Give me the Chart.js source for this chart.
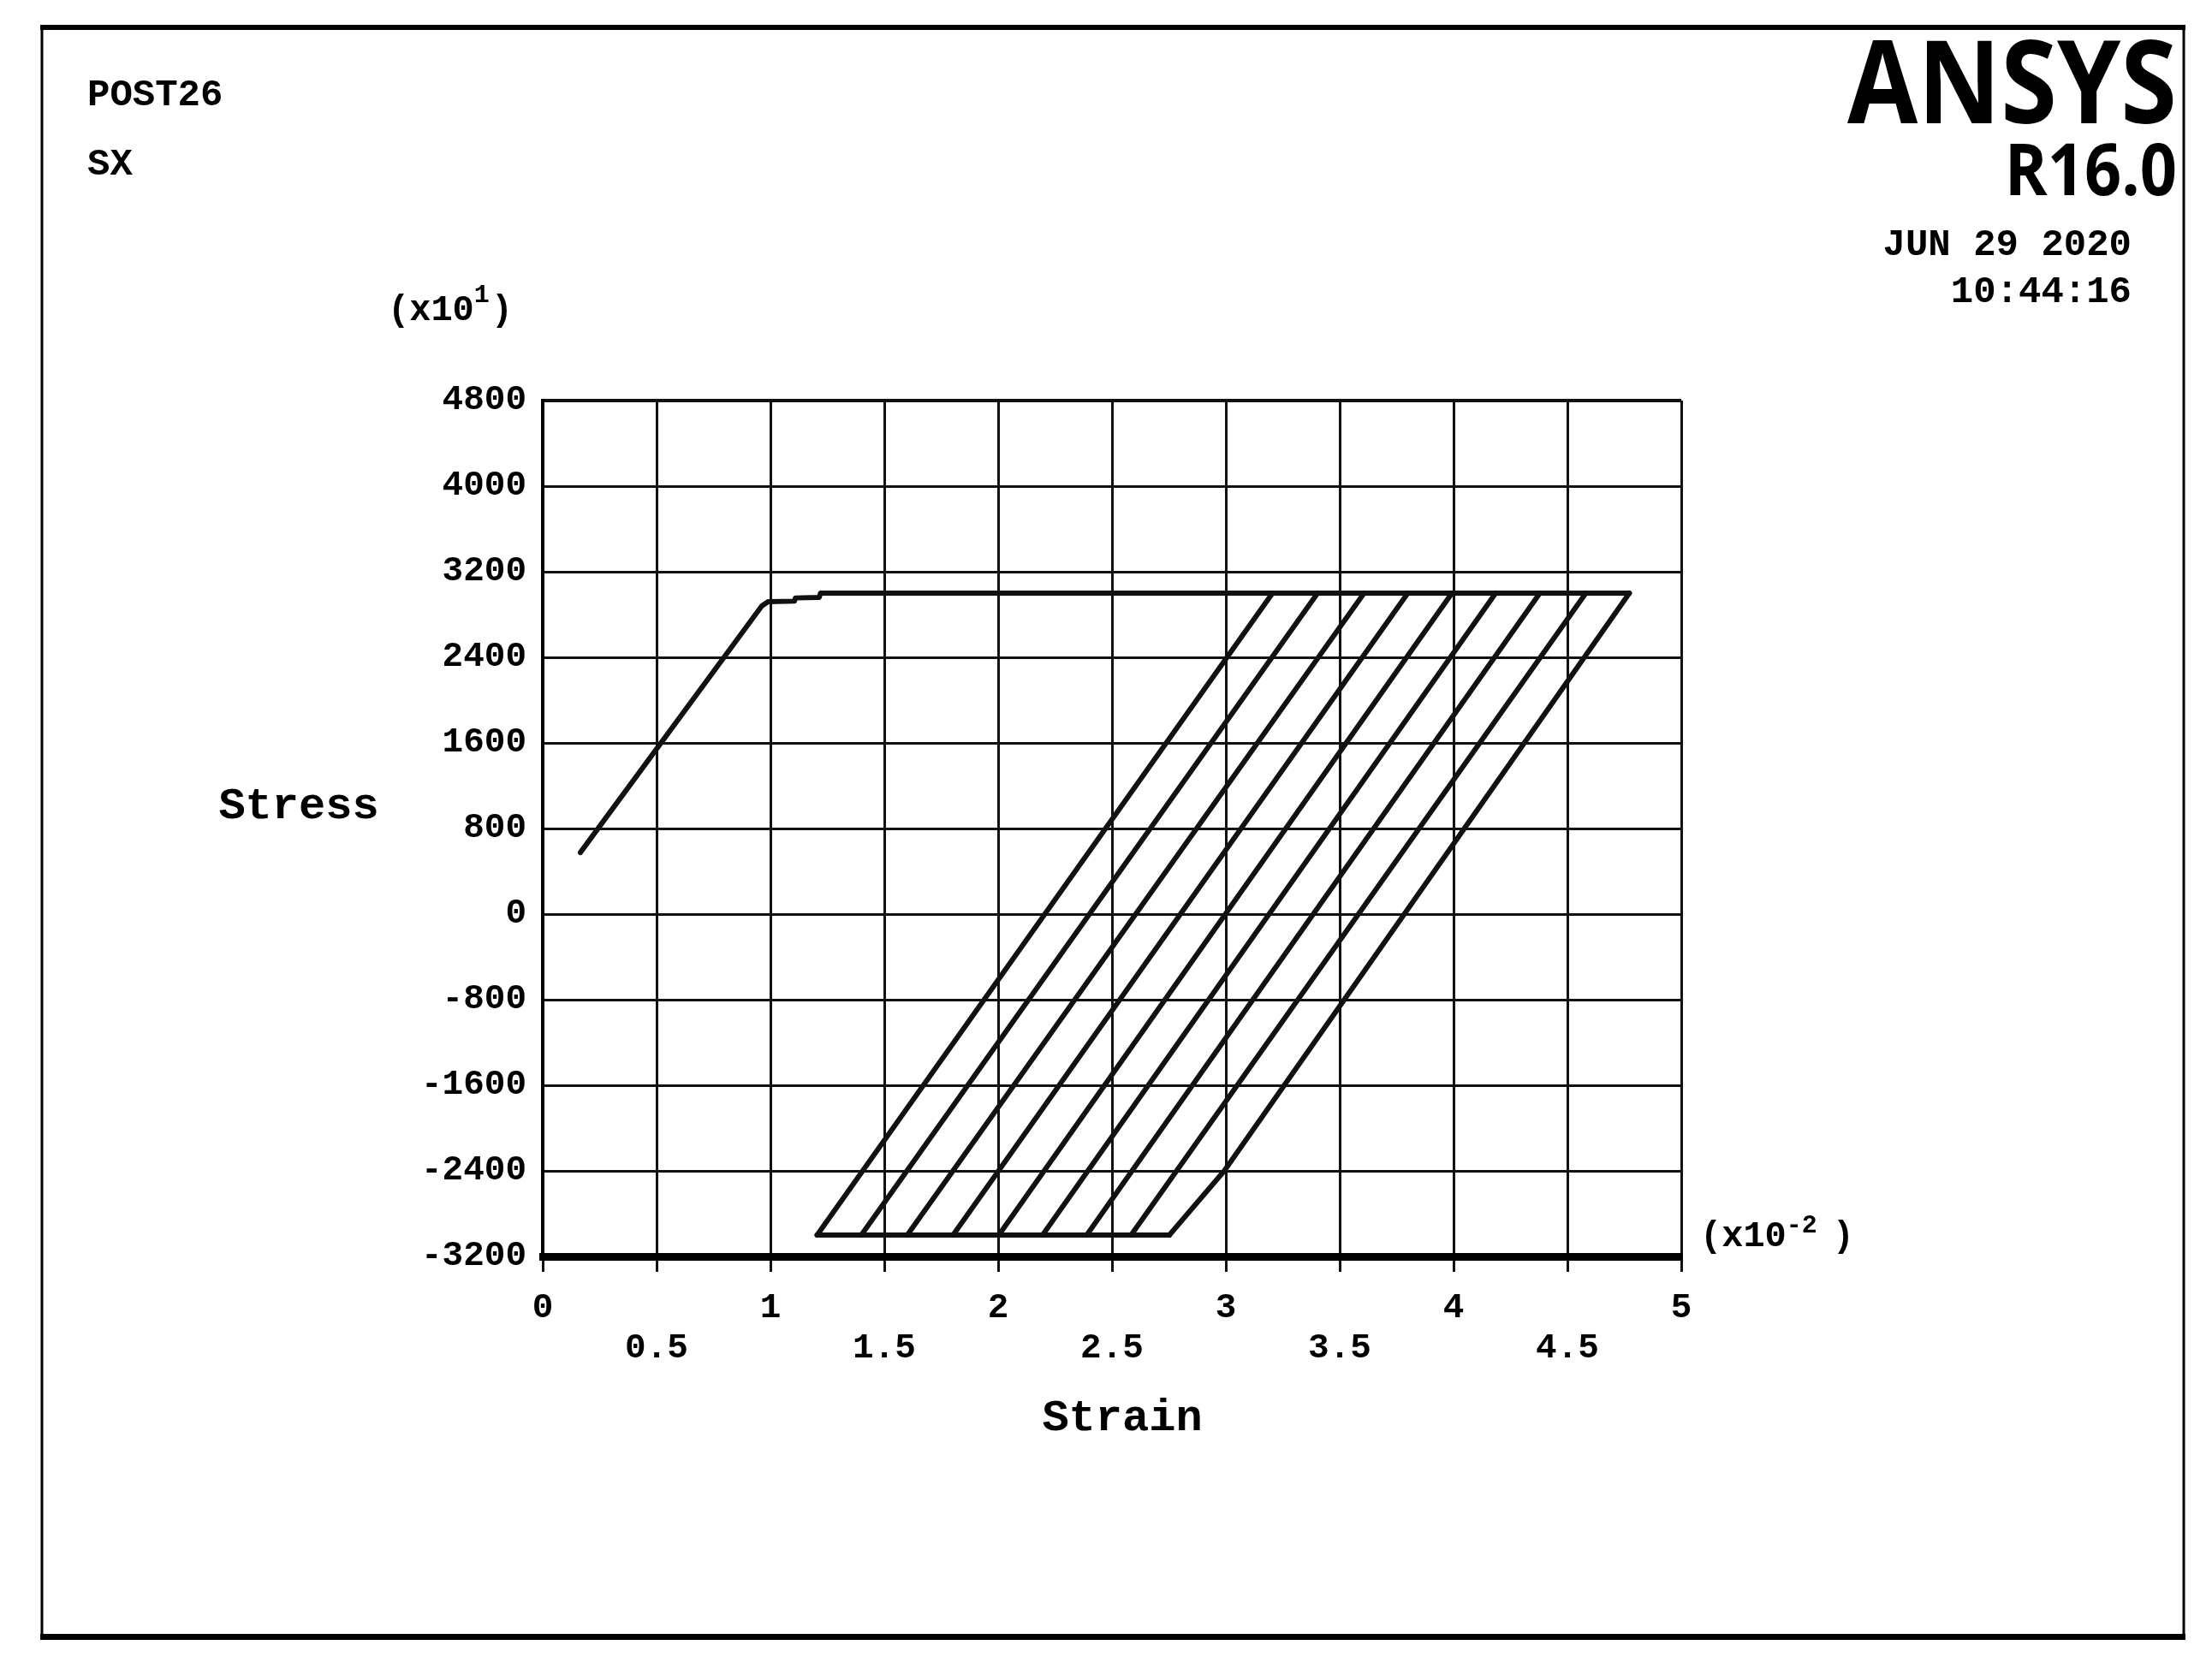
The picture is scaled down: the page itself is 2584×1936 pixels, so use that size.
<!DOCTYPE html>
<html>
<head>
<meta charset="utf-8">
<title>POST26 SX - Stress vs Strain</title>
<script src="https://cdn.jsdelivr.net/npm/chart.js@4.4.1/dist/chart.umd.min.js"></script>
<style>
    html, body { margin: 0; padding: 0; background: #fff; }
    #wrap { width: 2584px; height: 1936px; }
</style>
</head>
<body>
<div id="wrap"><canvas id="chart" width="2584" height="1936"></canvas></div>
<script>
// strain is in units of 1e-2, stress in units of 1e1 (as on the axes)
const loadStrain = [0.165, 0.962, 0.99, 1.105, 1.11, 1.214, 1.22, 4.772];
const loadStress = [575, 2880, 2920, 2925, 2955, 2960, 3000, 3000];

const topStress = 3000;
const bottomStress = -3000;
const topStrain = [3.205, 3.403, 3.607, 3.799, 3.993, 4.185, 4.379, 4.581, 4.772];
const bottomStrain = [1.205, 1.399, 1.601, 1.802, 2.003, 2.195, 2.389, 2.584, 2.752];

// the last branch bends a little just above the bottom line
const bendStrain = 2.993;
const bendStress = -2400;

const xTicks = [0, 0.5, 1, 1.5, 2, 2.5, 3, 3.5, 4, 4.5, 5];
const yTicks = [-3200, -2400, -1600, -800, 0, 800, 1600, 2400, 3200, 4000, 4800];

const headerLines = ["POST26", "SX"];
const dateLines = ["JUN 29 2020", "10:44:16"];

const mono = "'Liberation Mono', 'DejaVu Sans Mono', monospace";
const lineStyle = {
    borderColor: "#111",
    borderWidth: 6,
    pointRadius: 0,
    tension: 0,
    fill: false,
    borderJoinStyle: "round",
    borderCapStyle: "round"
};

let datasets = [];
datasets.push(Object.assign({
    label: "loading",
    data: loadStrain.map((x, i) => ({ x: x, y: loadStress[i] }))
}, lineStyle));
datasets.push(Object.assign({
    label: "bottom",
    data: [
        { x: bottomStrain[0], y: bottomStress },
        { x: bottomStrain[bottomStrain.length - 1], y: bottomStress }
    ]
}, lineStyle));
bottomStrain.forEach((b, i) => {
    let pts = [{ x: b, y: bottomStress }];
    if (i == bottomStrain.length - 1) {
        pts.push({ x: bendStrain, y: bendStress });
    }
    pts.push({ x: topStrain[i], y: topStress });
    datasets.push(Object.assign({ label: "branch " + (i + 1), data: pts }, lineStyle));
});

// header, logo, axis names and multipliers
const annotations = {
    id: "annotations",
    afterDraw(chart) {
        const c = chart.ctx;
        const area = chart.chartArea;
        c.save();
        c.fillStyle = "#000";
        c.strokeStyle = "#000";

        // frame
        c.lineWidth = 3;
        c.strokeRect(49, 32, 2502, 1881);
        c.fillRect(47, 29, 2506, 6);
        c.fillRect(47, 1909, 2506, 7);

        c.textBaseline = "middle";
        c.textAlign = "left";
        c.font = "bold 44px " + mono;
        c.fillText(headerLines[0], 102, 112);
        c.fillText(headerLines[1], 102, 193);

        c.textAlign = "right";
        c.fillText(dateLines[0], 2490, 287);
        c.fillText(dateLines[1], 2490, 342);

        c.textBaseline = "alphabetic";
        c.save();
        c.translate(2543, 144);
        c.scale(0.89, 1);
        c.font = "bold 134px 'Open Sans', 'Noto Sans', sans-serif";
        c.fillText("ANSYS", 0, 0);
        c.restore();
        c.save();
        c.translate(2543, 228);
        c.scale(0.9, 1);
        c.font = "bold 84px 'Open Sans', 'Noto Sans', sans-serif";
        c.fillText("R16.0", 0, 0);
        c.restore();

        // axis names
        c.textBaseline = "middle";
        c.textAlign = "center";
        c.font = "bold 52px " + mono;
        c.fillText("Stress", 349, 943);
        c.fillText("Strain", (area.left + area.right) / 2 + 12, 1658);

        // multipliers
        c.textAlign = "left";
        const big = "bold 42px " + mono;
        const small = "bold 30px " + mono;
        let x = 453;
        c.font = big;
        c.fillText("(x10", x, 363);
        x += c.measureText("(x10").width;
        c.font = small;
        c.fillText("1", x, 345);
        x += c.measureText("1").width + 2;
        c.font = big;
        c.fillText(")", x, 363);

        x = area.right + 22;
        c.fillText("(x10", x, 1445);
        x += c.measureText("(x10").width;
        c.font = small;
        c.fillText("-2", x, 1432);
        x += c.measureText("-2 ").width;
        c.font = big;
        c.fillText(")", x, 1445);
        c.restore();
    }
};

new Chart(document.querySelector("#chart"), {
    type: "line",
    data: { datasets: datasets },
    options: {
        responsive: false,
        animation: false,
        events: [],
        layout: {
            padding: { left: 434, right: 620, top: 468, bottom: 318 }
        },
        plugins: {
            legend: { display: false },
            tooltip: { enabled: false }
        },
        scales: {
            x: {
                type: "linear",
                min: xTicks[0],
                max: xTicks[xTicks.length - 1],
                afterFit: function (scale) { scale.height = 150; },
                afterBuildTicks: function (scale) {
                    scale.ticks = xTicks.map(v => ({ value: v }));
                },
                ticks: {
                    color: "#000",
                    font: { family: mono, size: 41, weight: "bold", lineHeight: 1.15 },
                    padding: 19,
                    maxRotation: 0,
                    autoSkip: false,
                    callback: function (value) {
                        return Number.isInteger(value) ? [String(value), ""] : ["", String(value)];
                    }
                },
                grid: {
                    color: "#111",
                    lineWidth: 3,
                    drawTicks: true,
                    tickLength: 18,
                    tickColor: "#111",
                    tickWidth: 3
                },
                border: { display: true, color: "#000", width: 9 }
            },
            y: {
                type: "linear",
                min: yTicks[0],
                max: yTicks[yTicks.length - 1],
                afterFit: function (scale) { scale.width = 200; },
                afterBuildTicks: function (scale) {
                    scale.ticks = yTicks.map(v => ({ value: v }));
                },
                ticks: {
                    color: "#000",
                    font: { family: mono, size: 41, weight: "bold" },
                    padding: 19,
                    autoSkip: false,
                    callback: function (value) { return String(value); }
                },
                grid: {
                    color: "#111",
                    lineWidth: function (ctx) {
                        return ctx.tick && ctx.tick.value == yTicks[yTicks.length - 1] ? 4 : 3;
                    },
                    drawTicks: false
                },
                border: { display: true, color: "#000", width: 4 }
            }
        }
    },
    plugins: [annotations]
});
</script>
</body>
</html>
